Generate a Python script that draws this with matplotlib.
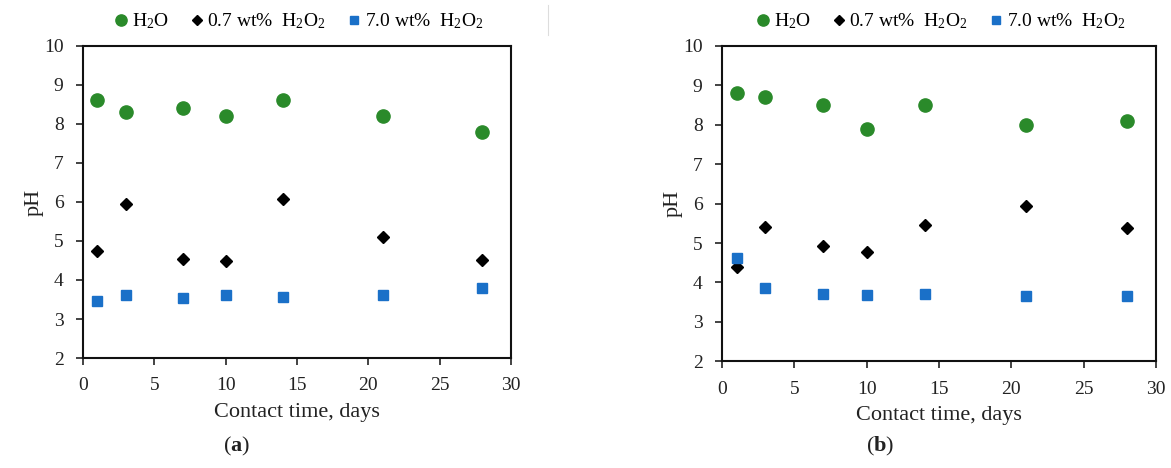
import matplotlib
matplotlib.use('Agg')
import matplotlib.pyplot as plt
from matplotlib.lines import Line2D

plt.rcParams['font.family'] = ['Liberation Serif', 'DejaVu Serif']
plt.rcParams['mathtext.fontset'] = 'custom'
plt.rcParams['mathtext.rm'] = 'Liberation Serif'
plt.rcParams['mathtext.it'] = 'Liberation Serif:italic'
plt.rcParams['mathtext.bf'] = 'Liberation Serif:bold'

# Data
days = [1, 3, 7, 10, 14, 21, 28]

water_a = [8.6, 8.3, 8.4, 8.2, 8.6, 8.2, 7.8]
h2o2_07_a = [4.75, 5.95, 4.55, 4.48, 6.08, 5.1, 4.5]
h2o2_70_a = [3.47, 3.62, 3.55, 3.62, 3.57, 3.62, 3.8]

water_b = [8.8, 8.7, 8.5, 7.9, 8.5, 8.0, 8.1]
h2o2_07_b = [4.4, 5.4, 4.93, 4.77, 5.45, 5.95, 5.37]
h2o2_70_b = [4.62, 3.87, 3.7, 3.68, 3.7, 3.65, 3.65]

labels = ['H$_2$O', '0.7 wt%  H$_2$O$_2$', '7.0 wt%  H$_2$O$_2$']
panel_names = ['a', 'b']

green = '#2a8a2a'
blue = '#1a70c8'

fig = plt.figure(figsize=(11.71, 4.68), dpi=100)
ax_a = fig.add_axes([0.0709, 0.235, 0.3655, 0.667])
ax_b = fig.add_axes([0.6166, 0.228, 0.3705, 0.674])

panels = [(ax_a, water_a, h2o2_07_a, h2o2_70_a),
          (ax_b, water_b, h2o2_07_b, h2o2_70_b)]
label_x = [0.2024, 0.7515]

for (ax, w, d07, d70), name, lx in zip(panels, panel_names, label_x):
    ax.plot(days, w, 'o', color=green, markersize=9.5, label=labels[0])
    ax.plot(days, d07, 'D', color='black', markersize=6.5, label=labels[1])
    ax.plot(days, d70, 's', color=blue, markersize=7.5, label=labels[2])
    ax.set_xlim(0, 30)
    ax.set_ylim(2, 10)
    ax.set_xticks(range(0, 31, 5))
    ax.set_yticks(range(2, 11))
    ax.tick_params(direction='out', length=5, width=1.2, labelsize=14,
                   colors='#222222', labelcolor='#222222')
    ax.tick_params(axis='x', pad=9)
    ax.tick_params(axis='y', pad=9)
    for s in ax.spines.values():
        s.set_linewidth(1.5)
        s.set_color('#111111')
    ax.set_xlabel('Contact time, days', fontsize=16, color='#222222', labelpad=6)
    ax.set_ylabel('pH', fontsize=16, color='#222222', labelpad=0)
    ax.legend(loc='lower center', bbox_to_anchor=(0.5, 1.01), ncol=3,
              frameon=False, fontsize=14, handletextpad=0.0,
              columnspacing=0.9, handlelength=1.1, borderaxespad=0.2,
              markerscale=0.85)
    fig.text(lx, 0.045, '($\\mathbf{' + name + '}$)', ha='center', va='center',
             fontsize=16, color='#222222')

fig.add_artist(Line2D([0.468, 0.468], [0.925, 0.99], color='#dddddd', lw=0.8))

fig.savefig('out.png', dpi=100)
